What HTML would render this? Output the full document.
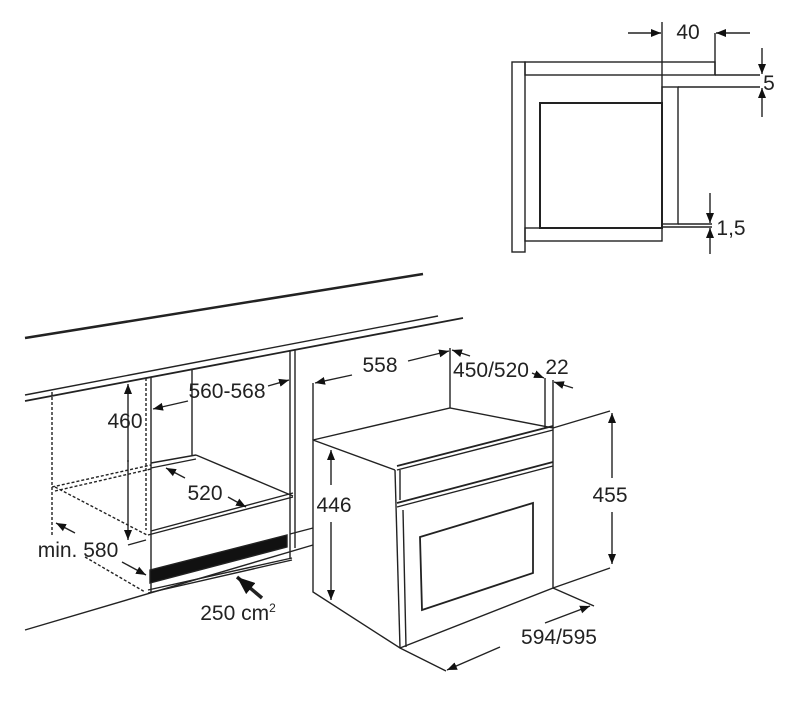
<!DOCTYPE html>
<html><head><meta charset="utf-8"><style>
html,body{margin:0;padding:0;background:#fff;}
svg{display:block;}
text{font-family:"Liberation Sans",sans-serif;font-size:21px;fill:#222;text-anchor:middle;}
</style></head><body>
<svg width="809" height="716" viewBox="0 0 809 716" xmlns="http://www.w3.org/2000/svg">
<defs>
<marker id="a" viewBox="0 0 10 10" refX="10" refY="5" markerWidth="10" markerHeight="10" orient="auto-start-reverse" markerUnits="userSpaceOnUse"><path d="M0,1 L10,5 L0,9 z" fill="#111"/></marker>
<marker id="b" viewBox="0 0 10 10" refX="10" refY="5" markerWidth="18" markerHeight="18" orient="auto" markerUnits="userSpaceOnUse"><path d="M0,1 L10,5 L0,9 z" fill="#111"/></marker>
</defs>
<g stroke="#222" stroke-width="1.4" fill="none">
<rect x="512" y="62" width="13" height="190"/>
<rect x="525" y="62" width="190" height="13"/>
<rect x="525" y="228" width="137" height="13"/>
<rect x="540" y="103" width="122" height="125" stroke-width="2"/>
<rect x="662" y="87" width="16" height="137"/>
<line x1="662" y1="22" x2="662" y2="228"/>
<line x1="715" y1="33" x2="715" y2="75"/>
<line x1="628" y1="33" x2="661" y2="33" marker-end="url(#a)"/>
<line x1="750" y1="33" x2="716" y2="33" marker-end="url(#a)"/>
<line x1="715" y1="75" x2="760" y2="75"/>
<line x1="678" y1="87" x2="760" y2="87"/>
<line x1="762" y1="48" x2="762" y2="74" marker-end="url(#a)"/>
<line x1="762" y1="117" x2="762" y2="88" marker-end="url(#a)"/>
<line x1="678" y1="224" x2="712" y2="224"/>
<line x1="662" y1="227" x2="712" y2="227"/>
<line x1="710" y1="193" x2="710" y2="223" marker-end="url(#a)"/>
<line x1="710" y1="254" x2="710" y2="228" marker-end="url(#a)"/>

<line x1="25" y1="338" x2="423" y2="274" stroke-width="2.5"/>
<line x1="25" y1="395" x2="438" y2="316"/>
<line x1="25" y1="401" x2="463" y2="318" stroke-width="1.8"/>
<line x1="290" y1="350" x2="290" y2="558"/>
<line x1="295" y1="349" x2="295" y2="548"/>
<line x1="151" y1="377" x2="151" y2="593"/>
<line x1="192" y1="370" x2="192" y2="455"/>
<line x1="52" y1="392" x2="52" y2="535" stroke-dasharray="3,2"/>
<line x1="146" y1="378" x2="146" y2="530" stroke-dasharray="3,2"/>
<line x1="52" y1="487" x2="151" y2="465" stroke-dasharray="3,2"/>
<line x1="55" y1="491" x2="151" y2="469" stroke-dasharray="3,2"/>
<line x1="55" y1="487" x2="147" y2="535" stroke-dasharray="3,2"/>
<line x1="85" y1="557" x2="145" y2="592" stroke-dasharray="3,2"/>
<line x1="151" y1="463" x2="196" y2="455"/>
<line x1="151" y1="468" x2="196" y2="459"/>
<line x1="196" y1="455" x2="293" y2="496"/>
<line x1="148" y1="535" x2="293" y2="497"/>
<line x1="151" y1="531" x2="293" y2="493"/>
<line x1="148" y1="590" x2="292" y2="558"/>
<polygon points="150,570 287,535 287,547 150,583" fill="#111"/>
<line x1="148" y1="593" x2="292" y2="560"/>
<line x1="25" y1="630" x2="313" y2="545"/>
<line x1="290" y1="534" x2="313" y2="528"/>
<line x1="128" y1="462" x2="128" y2="384" marker-end="url(#a)"/>
<line x1="128" y1="460" x2="128" y2="540" marker-end="url(#a)"/>
<line x1="128" y1="545" x2="146" y2="540"/>
<line x1="188" y1="401" x2="153" y2="409" marker-end="url(#a)"/>
<line x1="268" y1="386" x2="289" y2="380" marker-end="url(#a)"/>
<line x1="185" y1="478" x2="166" y2="468" marker-end="url(#a)"/>
<line x1="228" y1="497" x2="246" y2="507" marker-end="url(#a)"/>
<line x1="75" y1="533" x2="56" y2="523" marker-end="url(#a)"/>
<line x1="122" y1="562" x2="146" y2="575" marker-end="url(#a)"/>
<line x1="262" y1="598" x2="237" y2="577" stroke-width="3.5" marker-end="url(#b)"/>

<polygon points="313,440 450,408 553,428 553,588 400,648 313,592"/>
<line x1="313" y1="440" x2="395" y2="470"/>
<line x1="395" y1="470" x2="400" y2="648"/>
<line x1="397" y1="466" x2="553" y2="426" stroke-width="1.8"/>
<line x1="397" y1="470" x2="553" y2="430"/>
<line x1="397" y1="503" x2="553" y2="462" stroke-width="1.8"/>
<line x1="397" y1="507" x2="553" y2="466"/>
<line x1="400" y1="470" x2="400" y2="500"/>
<line x1="403" y1="510" x2="406" y2="647"/>
<polygon points="420,537 533,503 533,573 422,610" stroke-width="1.8"/>
<line x1="313" y1="440" x2="313" y2="383"/>
<line x1="450" y1="408" x2="450" y2="348"/>
<line x1="352" y1="375" x2="315" y2="383" marker-end="url(#a)"/>
<line x1="408" y1="361" x2="449" y2="351" marker-end="url(#a)"/>
<line x1="470" y1="356" x2="452" y2="350" marker-end="url(#a)"/>
<line x1="532" y1="373" x2="544" y2="378" marker-end="url(#a)"/>
<line x1="573" y1="388" x2="554" y2="382" marker-end="url(#a)"/>
<line x1="545" y1="378" x2="545" y2="428"/>
<line x1="553" y1="380" x2="553" y2="428"/>
<line x1="553" y1="428" x2="610" y2="411"/>
<line x1="553" y1="588" x2="610" y2="568"/>
<line x1="612" y1="478" x2="612" y2="413" marker-end="url(#a)"/>
<line x1="612" y1="512" x2="612" y2="564" marker-end="url(#a)"/>
<line x1="331" y1="485" x2="331" y2="450" marker-end="url(#a)"/>
<line x1="331" y1="522" x2="331" y2="600" marker-end="url(#a)"/>
<line x1="553" y1="588" x2="594" y2="606"/>
<line x1="400" y1="648" x2="446" y2="671"/>
<line x1="500" y1="647" x2="447" y2="670" marker-end="url(#a)"/>
<line x1="545" y1="623" x2="590" y2="606" marker-end="url(#a)"/>
</g>
<g>
<text x="688" y="39">40</text>
<text x="769" y="90">5</text>
<text x="731" y="235">1,5</text>
<text x="125" y="428">460</text>
<text x="227" y="398">560-568</text>
<text x="205" y="500">520</text>
<text x="78" y="557">min. 580</text>
<text x="238" y="620">250 cm<tspan font-size="12" dy="-8">2</tspan></text>
<text x="380" y="372">558</text>
<text x="491" y="377">450/520</text>
<text x="557" y="374">22</text>
<text x="610" y="502">455</text>
<text x="334" y="512">446</text>
<text x="559" y="644">594/595</text>
</g>
</svg>
</body></html>
